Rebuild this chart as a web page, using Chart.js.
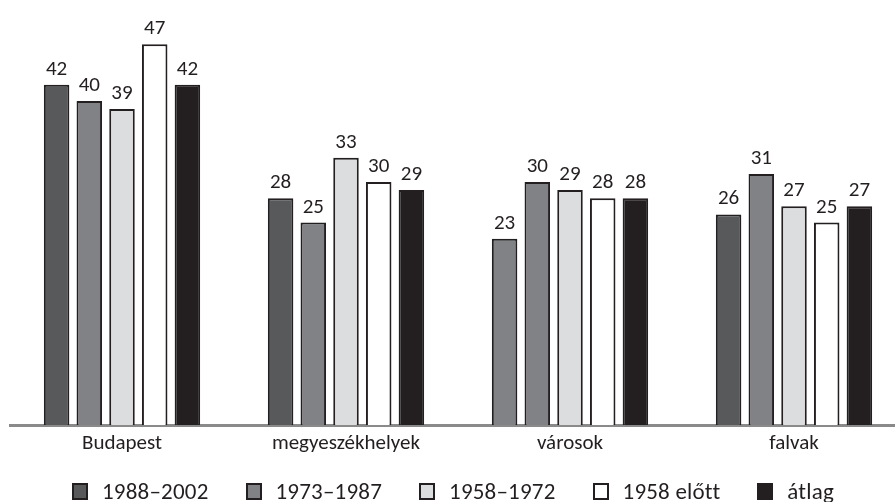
<!DOCTYPE html>
<html>
<head>
<meta charset="utf-8">
<script src="https://cdn.jsdelivr.net/npm/chart.js@4/dist/chart.umd.min.js"></script>
<style>
  html, body { margin: 0; padding: 0; background: #fff; overflow: hidden; }
  #wrap { position: relative; width: 906px; height: 502px; }
  #legend {
    position: absolute; left: 72px; top: 479px;
    display: flex; align-items: center; white-space: nowrap;
    font-family: Carlito, Lato, sans-serif; font-size: 23px; line-height: 24px; color: #231f20;
    letter-spacing: 0.2px;
  }
  #legend .item { display: flex; align-items: center; margin-right: 37px; }
  #legend .box { width: 12px; height: 13px; border: 2px solid #231f20; margin-right: 14px; }
</style>
</head>
<body>
<div id="wrap">
  <canvas id="chart" width="906" height="502"></canvas>
  <div id="legend"></div>
</div>
<script>
const categories = ['Budapest', 'megyeszékhelyek', 'városok', 'falvak'];
const seriesNames = ['1988–2002', '1973–1987', '1958–1972', '1958 előtt', 'átlag'];
const s1988 = [42, 28, 23, 26];
const s1973 = [40, 25, 30, 31];
const s1958 = [39, 33, 29, 27];
const sBefore = [47, 30, 28, 25];
const sAvg = [42, 29, 28, 27];

const fills = ['#58595b', '#808285', '#dcddde', '#ffffff', '#231f20'];
const edge = '#231f20';
const font = 'Carlito, Lato, sans-serif';

// in the original the first városok bar is drawn in the 1973–1987 grey
const firstFill = [fills[0], fills[0], fills[1], fills[0]];

const values = [s1988, s1973, s1958, sBefore, sAvg];
const datasets = values.map((v, i) => ({
  label: seriesNames[i],
  data: v,
  backgroundColor: i === 0 ? firstFill : fills[i],
  borderColor: edge,
  borderWidth: 2,
  barPercentage: 0.78,
  categoryPercentage: 0.73
}));

const valueLabels = {
  id: 'valueLabels',
  afterDatasetsDraw(chart) {
    const ctx = chart.ctx;
    ctx.save();
    ctx.font = '21px ' + font;
    ctx.fillStyle = '#231f20';
    ctx.textAlign = 'center';
    ctx.textBaseline = 'alphabetic';
    chart.data.datasets.forEach((ds, i) => {
      chart.getDatasetMeta(i).data.forEach((bar, j) => {
        ctx.fillText(ds.data[j], bar.x, bar.y - 10);
      });
    });
    ctx.restore();
  }
};

new Chart(document.getElementById('chart'), {
  type: 'bar',
  data: { labels: categories, datasets: datasets },
  options: {
    responsive: false,
    animation: false,
    layout: { padding: { left: 10, right: 0, top: 20, bottom: 0 } },
    plugins: { legend: { display: false }, tooltip: { enabled: false } },
    scales: {
      x: {
        grid: { display: false, drawTicks: false },
        border: { display: true, color: '#8a8a8a', width: 3 },
        ticks: { color: '#231f20', font: { family: font, size: 21 }, padding: 6 },
        afterFit(scale) { scale.height = 77; }
      },
      y: { display: false, min: 0, max: 50 }
    }
  },
  plugins: [valueLabels]
});

const legend = document.getElementById('legend');
seriesNames.forEach((name, i) => {
  const item = document.createElement('div');
  item.className = 'item';
  const box = document.createElement('span');
  box.className = 'box';
  box.style.background = fills[i];
  const txt = document.createElement('span');
  txt.textContent = name;
  item.appendChild(box);
  item.appendChild(txt);
  legend.appendChild(item);
});
</script>
</body>
</html>
